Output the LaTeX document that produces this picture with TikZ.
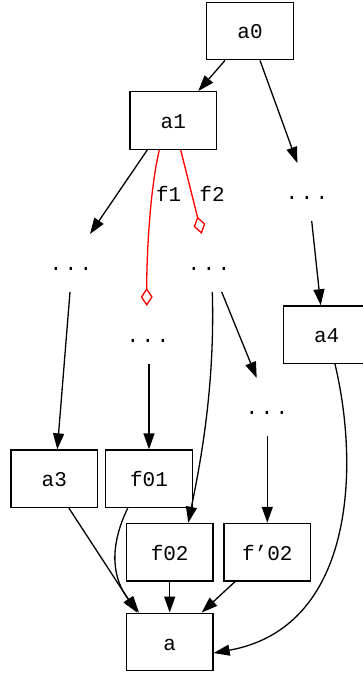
\documentclass[tikz,border=0pt]{standalone}
\usepackage{fontspec}
\setmonofont{Liberation Mono}
\usetikzlibrary{arrows.meta}
\begin{document}
\begin{tikzpicture}[x=1pt,y=-1pt,
  every node/.style={font=\ttfamily\fontsize{21}{25}\selectfont, inner sep=0pt},
  box/.style={draw, line width=1.3pt, minimum width=86.6pt, minimum height=57.6pt, text height=16pt, text depth=0pt},
  ghost/.style={minimum width=86.6pt, minimum height=57.6pt, text height=14.5pt, text depth=0pt},
  lbl/.style={text height=16pt, text depth=0pt},
  edge/.style={line width=1.3pt, -{Triangle[length=16pt,width=11pt]}},
  redge/.style={line width=1.3pt, red, -{Diamond[open,length=18pt,width=12pt]}}
]
\useasboundingbox (0,0) rectangle (363,674);
\newcommand{\mydots}{.\hspace{2.4pt}.\hspace{2.4pt}.}
% nodes
\node[box] (a0) at (250,31) {a0};
\node[box] (a1) at (173.3,120.5) {a1};
\node[ghost] (d1) at (307,192) {\mydots};
\node[ghost] (d2) at (71,263) {\mydots};
\node[ghost] (d3) at (209,263) {\mydots};
\node[ghost] (d4) at (148,335) {\mydots};
\node[ghost] (d5) at (267,407) {\mydots};
\node[box] (a4) at (326.7,334.7) {a4};
\node[box] (a3) at (54.3,478.8) {a3};
\node[box] (f01) at (149,478.8) {f01};
\node[box] (f02) at (169.7,552.2) {f02};
\node[box] (fp02) at (267.3,552.2) {f’02};
\node[box] (a) at (169.7,642) {a};
\node[lbl] (l1) at (168.7,193) {f1};
\node[lbl] (l2) at (212,193) {f2};
% edges
\draw[edge] ([xshift=-25pt]a0.south) -- ([xshift=25pt]a1.north);
\draw[edge] ([xshift=10pt]a0.south) -- ([xshift=-9.7pt]d1.north);
\draw[edge] ([xshift=-26pt]a1.south) -- ([xshift=19pt]d2.north);
\draw[redge] ([xshift=-14pt]a1.south) .. controls +(-9,38) and +(0,-55) .. ([xshift=-1.3pt]d4.north);
\draw[redge] ([xshift=7.4pt]a1.south) -- ([xshift=-7.3pt]d3.north);
\draw[edge] ([xshift=4.7pt]d1.south) -- ([xshift=-6pt]a4.north);
\draw[edge] ([xshift=-1pt]d2.south) -- ([xshift=3pt]a3.north);
\draw[edge] ([xshift=3.3pt]d3.south) .. controls +(3,100) and +(10,-50) .. ([xshift=18.6pt]f02.north);
\draw[edge] ([xshift=12.7pt]d3.south) -- ([xshift=-10.3pt]d5.north);
\draw[edge] ([xshift=1pt]d4.south) -- (f01.north);
\draw[edge] ([xshift=0.3pt]d5.south) -- (fp02.north);
\draw[edge] ([xshift=8.3pt]a4.south) .. controls +(25,105) and +(140,-25) .. ([yshift=-11pt]a.east);
\draw[edge] ([xshift=14.7pt]a3.south) -- ([xshift=-32.7pt]a.north);
\draw[edge] ([xshift=-21.3pt]f01.south) .. controls +(-18,37) and +(-28,-35) .. ([xshift=-30.7pt]a.north);
\draw[edge] (f02.south) -- (a.north);
\draw[edge] ([xshift=-32.3pt]fp02.south) -- ([xshift=32pt]a.north);
\end{tikzpicture}
\end{document}
